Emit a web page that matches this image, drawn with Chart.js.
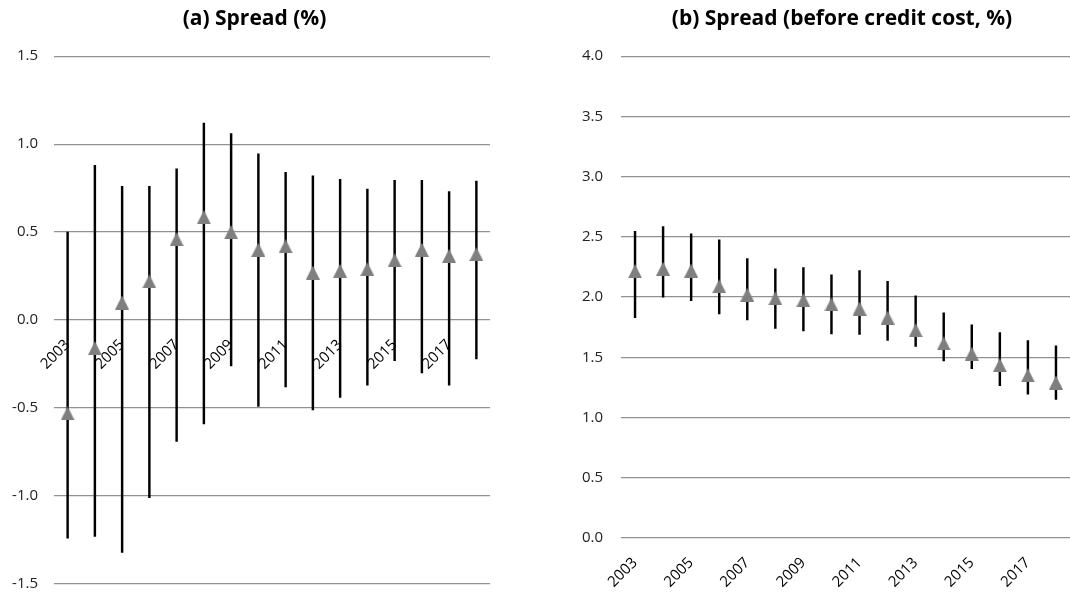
<!DOCTYPE html>
<html>
<head>
<meta charset="utf-8">
<script src="https://cdn.jsdelivr.net/npm/chart.js@4.4.1/dist/chart.umd.min.js"></script>
<style>
  html, body { margin: 0; padding: 0; width: 1070px; height: 593px; overflow: hidden; background: #fff; }
  canvas { position: absolute; top: 0; }
</style>
</head>
<body>
<canvas id="chartA" width="509" height="593" style="left:0"></canvas>
<canvas id="chartB" width="564" height="593" style="left:560px"></canvas>
<script>
const years = ['2003', '2004', '2005', '2006', '2007', '2008', '2009', '2010',
  '2011', '2012', '2013', '2014', '2015', '2016', '2017', '2018'];

// (a) spread, %
const spreadMean = [-0.53, -0.16, 0.10, 0.22, 0.46, 0.585, 0.50, 0.40,
  0.42, 0.27, 0.28, 0.29, 0.34, 0.40, 0.365, 0.375];
const spreadLow = [-1.24, -1.23, -1.32, -1.01, -0.69, -0.59, -0.26, -0.49,
  -0.38, -0.51, -0.44, -0.37, -0.23, -0.30, -0.37, -0.22];
const spreadHigh = [0.50, 0.88, 0.76, 0.76, 0.86, 1.12, 1.06, 0.945,
  0.84, 0.82, 0.80, 0.745, 0.795, 0.795, 0.73, 0.79];

// (b) spread before credit cost, %
const grossMean = [2.215, 2.235, 2.22, 2.09, 2.02, 1.99, 1.975, 1.94,
  1.905, 1.83, 1.725, 1.615, 1.53, 1.435, 1.35, 1.29];
const grossLow = [1.83, 2.0, 1.97, 1.86, 1.81, 1.74, 1.72, 1.695,
  1.69, 1.64, 1.59, 1.47, 1.405, 1.265, 1.195, 1.15];
const grossHigh = [2.545, 2.585, 2.525, 2.475, 2.32, 2.235, 2.245, 2.185,
  2.22, 2.13, 2.01, 1.87, 1.77, 1.705, 1.64, 1.595];

const FONT = "'Open Sans', sans-serif";

// excel-like triangle marker, centred on its box
function makeTriangle() {
  const c = document.createElement('canvas');
  c.width = 14; c.height = 14;
  const g = c.getContext('2d');
  g.fillStyle = '#7f7f7f';
  g.beginPath();
  g.moveTo(7, 0);
  g.lineTo(14, 14);
  g.lineTo(0, 14);
  g.closePath();
  g.fill();
  return c;
}
const tri = makeTriangle();

// nudge the title sideways (Chart.js always centres it on the canvas)
const titleShift = {
  id: 'titleShift',
  afterLayout(chart, args, opts) {
    const t = chart.titleBlock;
    if (t && opts.dx) {
      t.left += opts.dx;
      t.right += opts.dx;
    }
  }
};

function makeChart(id, title, mean, low, high, yMin, yMax, opts) {
  const ctx = document.getElementById(id).getContext('2d');
  return new Chart(ctx, {
    type: 'bar',
    plugins: [titleShift],
    data: {
      labels: years,
      datasets: [
        {
          type: 'line',
          data: mean,
          showLine: false,
          pointStyle: tri,
          pointRadius: 7,
          order: 0
        },
        {
          data: low.map((v, i) => [v, high[i]]),
          backgroundColor: '#000',
          borderWidth: 0,
          barThickness: 1.8,
          order: 1
        }
      ]
    },
    options: {
      responsive: false,
      animation: false,
      events: [],
      layout: { padding: opts.padding },
      plugins: {
        legend: { display: false },
        tooltip: { enabled: false },
        titleShift: { dx: opts.titleDx },
        title: {
          display: true,
          text: title,
          color: '#000',
          font: { family: FONT, size: 21, weight: 'bold' },
          padding: { top: 6, bottom: 25 }
        }
      },
      scales: {
        x: {
          position: opts.xPos,
          grid: { display: false, drawTicks: false },
          border: { display: false },
          ticks: {
            autoSkip: false,
            minRotation: 45,
            maxRotation: 45,
            padding: 16,
            color: '#000',
            font: { family: FONT, size: 15 },
            callback: (v, i) => (i % 2 === 0 ? years[i] : '')
          },
          afterFit: (s) => { s.height = opts.xHeight; }
        },
        y: {
          min: yMin,
          max: yMax,
          grid: { color: '#919191', lineWidth: 1.3, drawTicks: false },
          border: { display: false },
          ticks: {
            stepSize: 0.5,
            padding: opts.yPad,
            color: '#222',
            font: { family: FONT, size: 15 },
            callback: (v) => v.toFixed(1)
          },
          afterFit: (s) => {
            s.width = opts.yWidth;
            s.paddingTop = 9;
            s.paddingBottom = 9;
          }
        }
      }
    }
  });
}

makeChart('chartA', '(a) Spread (%)', spreadMean, spreadLow, spreadHigh, -1.5, 1.5, {
  padding: { left: 0, right: 19, top: 0, bottom: 9 },
  xPos: { y: 0 },
  xHeight: 0,
  yPad: 16,
  yWidth: 54,
  titleDx: 9.5
});

makeChart('chartB', '(b) Spread (before credit cost, %)', grossMean, grossLow, grossHigh, 0, 4, {
  padding: { left: 0, right: 54, top: 0, bottom: 0 },
  xPos: 'bottom',
  xHeight: 55,
  yPad: 18,
  yWidth: 61,
  titleDx: 27
});
</script>
</body>
</html>
